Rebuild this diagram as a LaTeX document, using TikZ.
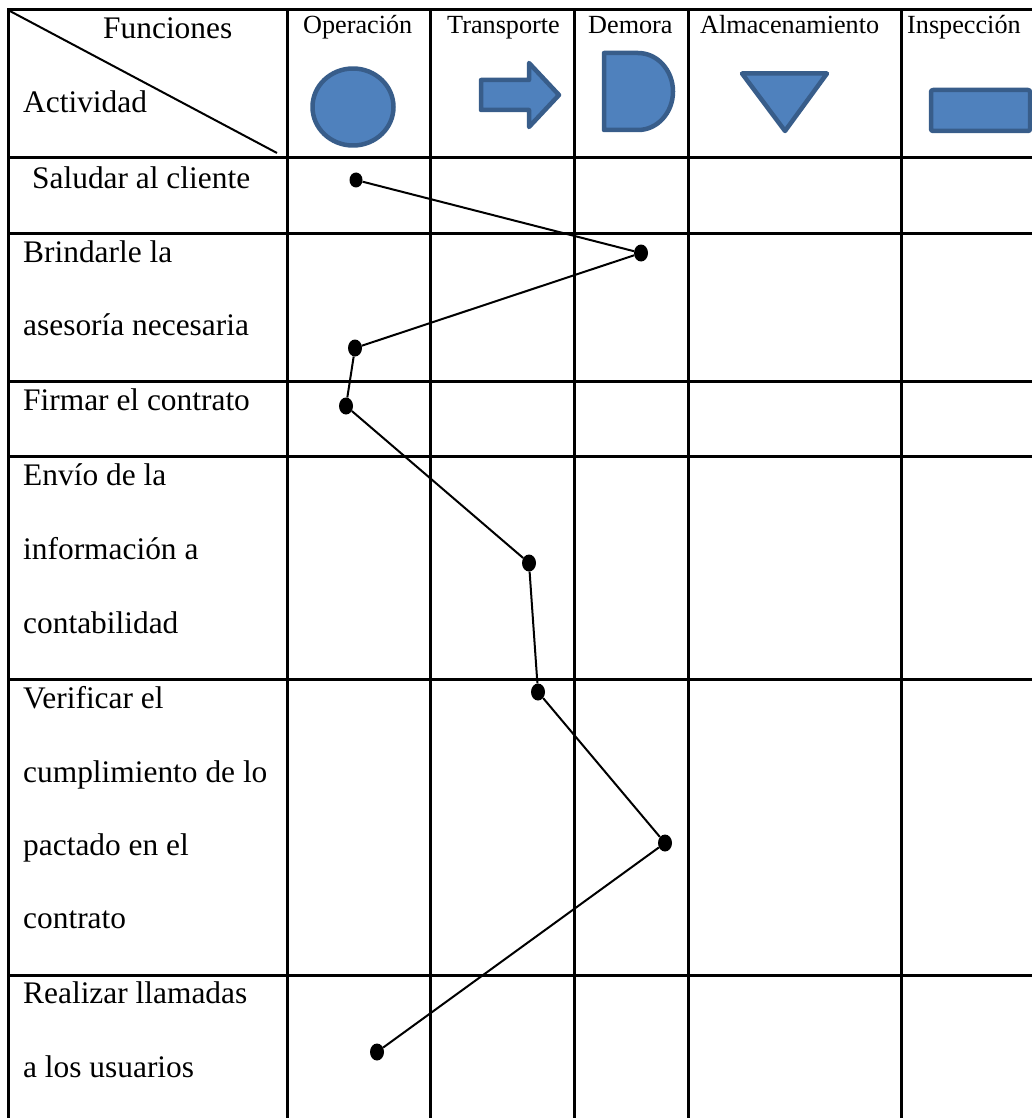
\documentclass[tikz,border=0pt]{standalone}
\usepackage{fontspec}
\setmainfont{Liberation Serif}
\usetikzlibrary{shapes.geometric}
\definecolor{shfill}{HTML}{4F81BD}
\definecolor{shline}{HTML}{385D8A}
\begin{document}
\begin{tikzpicture}[x=1pt,y=-1pt,
  gridline/.style={line width=3pt, black, line cap=rect},
  cell/.style={anchor=base west, inner sep=0pt, font=\fontsize{31.4}{37}\selectfont},
  head/.style={anchor=base west, inner sep=0pt, font=\fontsize{26.2}{31}\selectfont},
  sym/.style={fill=shfill, draw=shline, line width=4.5pt, line join=round},
  dotmark/.style={ellipse, fill=black, inner sep=0pt, minimum width=14pt, minimum height=17pt},
  link/.style={line width=2pt}]
\useasboundingbox (0,0) rectangle (1032,1118);
\clip (0,0) rectangle (1032,1118);
% grid
\foreach \x in {8,287,430,574,688,901} \draw[gridline] (\x,10) -- (\x,1130);
\foreach \y in {10,158,233,381,456,679,975} \draw[gridline] (8,\y) -- (1045,\y);
% diagonal
\draw[line width=2pt] (8,10) -- (277,153);
% header texts
\node[cell] (hfun) at (103,39) {Funciones};
\node[cell] (hact) at (23,113) {Actividad};
\node[head] (hop) at (303,34) {Operación};
\node[head] (htr) at (447,34) {Transporte};
\node[head] (hde) at (588,34) {Demora};
\node[head] (hal) at (700,34) {Almacenamiento};
\node[head] (hin) at (907,34) {Inspección};
% symbols
\draw[sym] (353,107) ellipse [x radius=40.5, y radius=38.5];
\draw[sym] (481,80) -- (529,80) -- (529,63) -- (559,95) -- (529,127) -- (529,110) -- (481,110) -- cycle;
\draw[sym] (638,53) arc[start angle=-90, end angle=90, x radius=35, y radius=38.5] -- (604,130) -- (604,53) -- cycle;
\draw[sym] (742,73.5) -- (827,73.5) -- (785,131) -- cycle;
\draw[sym, rounded corners=2pt] (931,90) rectangle (1030,131);
% row texts
\node[cell] (r1) at (32,189) {Saludar al cliente};
\node[cell] (r2a) at (23,262) {Brindarle la};
\node[cell] (r2b) at (23,335) {asesoría necesaria};
\node[cell] (r3) at (23,410) {Firmar el contrato};
\node[cell] (r4a) at (23,485) {Envío de la};
\node[cell] (r4b) at (23,559) {información a};
\node[cell] (r4c) at (23,633) {contabilidad};
\node[cell] (r5a) at (23,708) {Verificar el};
\node[cell] (r5b) at (23,782) {cumplimiento de lo};
\node[cell] (r5c) at (23,855) {pactado en el};
\node[cell] (r5d) at (23,928) {contrato};
\node[cell] (r6a) at (23,1003) {Realizar llamadas};
\node[cell] (r6b) at (23,1077) {a los usuarios};
% dots
\node[dotmark, minimum width=13pt, minimum height=15pt] (d1) at (356,180) {};
\node[dotmark] (d2) at (641,253) {};
\node[dotmark] (d3) at (355,348) {};
\node[dotmark] (d4) at (346,406) {};
\node[dotmark] (d5) at (529,563) {};
\node[dotmark] (d6) at (538,692) {};
\node[dotmark] (d7) at (665,843) {};
\node[dotmark] (d8) at (377,1052) {};
\draw[link] (d1) -- (d2) -- (d3) -- (d4) -- (d5) -- (d6) -- (d7) -- (d8);
\end{tikzpicture}
\end{document}
